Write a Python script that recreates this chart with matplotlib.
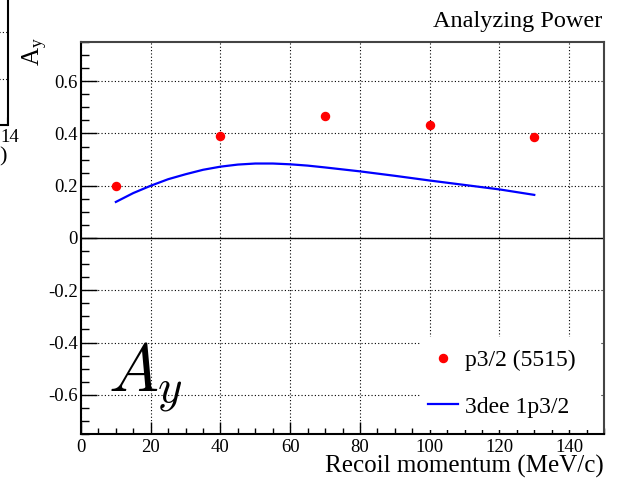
import matplotlib
matplotlib.use("Agg")
import matplotlib.pyplot as plt
from matplotlib.patches import Rectangle
from matplotlib.ticker import MultipleLocator, NullFormatter

# Measured analyzing power, p3/2 state (5515)
p_meas = [10, 40, 70, 100, 130]
ay_meas = [0.200, 0.391, 0.467, 0.432, 0.387]
ay_err = [0.012, 0.008, 0.008, 0.008, 0.015]

# 3dee calculation for 1p3/2
p_calc = [10, 15, 20, 25, 30, 35, 40, 45, 50, 55, 60, 65, 70, 80, 90, 100, 110, 120, 130]
ay_calc = [0.138, 0.172, 0.200, 0.225, 0.244, 0.261, 0.273, 0.281, 0.285, 0.285,
           0.282, 0.277, 0.270, 0.255, 0.238, 0.220, 0.203, 0.186, 0.165]

xticks = [0, 20, 40, 60, 80, 100, 120, 140]
yticks = [-0.6, -0.4, -0.2, 0, 0.2, 0.4, 0.6]
ytick_labels = ["-0.6", "-0.4", "-0.2", "0", "0.2", "0.4", "0.6"]

label_meas = "p3/2 (5515)"
label_calc = "3dee 1p3/2"

plt.rcParams["font.family"] = ["Liberation Serif", "DejaVu Serif"]
plt.rcParams["mathtext.fontset"] = "custom"
plt.rcParams["mathtext.rm"] = "Liberation Serif"
plt.rcParams["mathtext.it"] = "Liberation Serif:italic"

W, H = 619, 482
fig = plt.figure(figsize=(W / 100, H / 100), dpi=100)


def fx(px):
    return px / W


def fy(py):
    return (H - py) / H


# ---- neighbouring panel, cut by the left edge ----
ax0 = fig.add_axes([fx(-300), fy(125), fx(307.5), 0.45])
ax0.set_xlim(0, 14)
ax0.set_ylim(0.03, 0.03 + 0.45 * H / 47.3)
ax0.set_yticks([1, 2, 3, 4])
ax0.yaxis.set_major_formatter(NullFormatter())
ax0.tick_params(axis="y", length=0)
ax0.set_xticks([14])
ax0.xaxis.set_major_formatter(NullFormatter())
ax0.tick_params(axis="x", direction="in", length=6)
ax0.grid(axis="y", color="black", linestyle=(0, (1, 2)), linewidth=0.8)
for s in ("left", "top"):
    ax0.spines[s].set_visible(False)
for s in ("right", "bottom"):
    ax0.spines[s].set_linewidth(1.5)
fig.text(0, fy(138), "14", ha="left", va="center", fontsize=13.5)
fig.text(fx(7), fy(157), ")", ha="right", va="center", fontsize=16)

# ---- main panel ----
ax = fig.add_axes([fx(81), fy(434), fx(604 - 81), (434 - 42) / H])
ax.set_xlim(0, 150)
ax.set_ylim(-0.75, 0.75)

ax.set_xticks(xticks)
ax.set_yticks(yticks)
ax.set_yticklabels(ytick_labels)
ax.xaxis.set_minor_locator(MultipleLocator(5))
ax.yaxis.set_minor_locator(MultipleLocator(0.05))
ax.tick_params(axis="both", which="both", direction="in", top=False, right=False,
               labelsize=13.5, width=1.0)
ax.tick_params(axis="y", which="major", length=11.2, pad=2.5)
ax.tick_params(axis="y", which="minor", length=5.6)
ax.tick_params(axis="x", which="major", length=8.3, pad=3.5)
ax.tick_params(axis="x", which="minor", length=4.2)

ax.grid(True, which="major", color="black", linestyle=(0, (1, 2)), linewidth=0.8)
ax.set_axisbelow(True)
ax.axhline(0, color="black", linewidth=1.0, zorder=1.5)

for s in ("left", "bottom"):
    ax.spines[s].set_linewidth(1.5)
    ax.spines[s].set_color("black")
for s in ("top", "right"):
    ax.spines[s].set_linewidth(1.5)
    ax.spines[s].set_color("#444444")

line_calc, = ax.plot(p_calc, ay_calc, color="#0000ff", linewidth=1.6, zorder=3,
                     label=label_calc)
ax.errorbar(p_meas, ay_meas, yerr=ay_err, fmt="none", ecolor="#ff0000",
            elinewidth=1.2, capsize=0, zorder=4)
meas, = ax.plot(p_meas, ay_meas, "o", color="#ff0000", markersize=5.8,
                zorder=4, label=label_meas)

# white legend pad over the grid
ax.add_patch(Rectangle(((421 - 81) / 523, (434 - 430) / 392),
                       (600 - 421) / 523, (430 - 337) / 392,
                       transform=ax.transAxes, facecolor="white",
                       edgecolor="none", zorder=2))
leg = ax.legend([meas, line_calc], [label_meas, label_calc],
                loc="center left",
                bbox_to_anchor=((428 - 81) / 523, (434 - 383.5) / 392),
                frameon=False, fontsize=17, handlelength=1.27,
                handletextpad=0.3, labelspacing=1.07, borderpad=0,
                borderaxespad=0, numpoints=1)
leg.set_zorder(5)

# axis titles and caption
fig.text(fx(604), fy(473), "Recoil momentum (MeV/c)", ha="right", va="baseline",
         fontsize=18)
fig.text(fx(35), fy(37), r"$\mathrm{A_y}$", rotation=90, ha="center", va="top",
         fontsize=18)
fig.text(fx(602), fy(27), "Analyzing Power", ha="right", va="baseline",
         fontsize=17.5)
fig.text(fx(108), fy(391), r"$A_y$", ha="left", va="baseline", fontsize=48,
         math_fontfamily="cm")

fig.savefig("out.png", dpi=100)
